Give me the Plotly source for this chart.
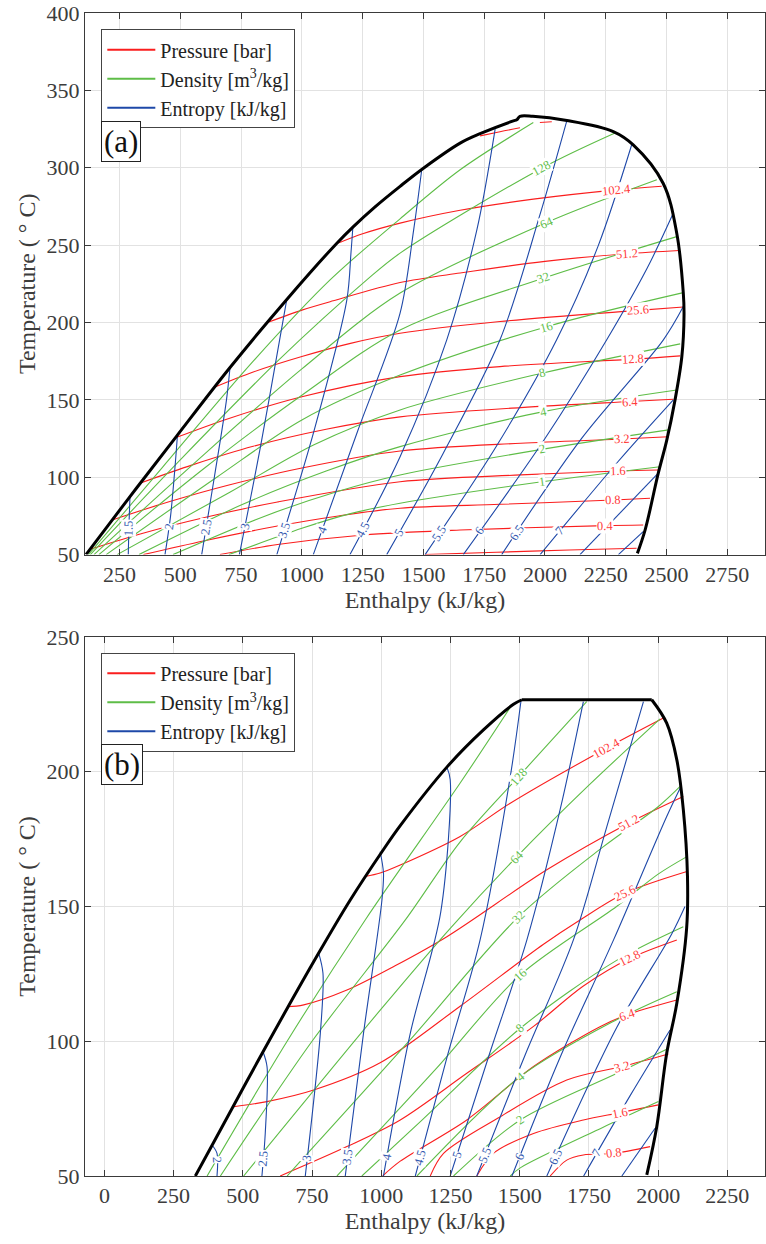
import numpy as np
import plotly.graph_objects as go

# ---------------- Panel (a) data ----------------
A_SAT_H = [112, 293, 485, 704.5, 938, 1143, 1212, 1300, 1404, 1500, 1651, 1733, 1870, 1884, 1897, 1950, 2090, 2281, 2363, 2486, 2542, 2569, 2572, 2563, 2535, 2501, 2466, 2412, 2380]
A_SAT_T = [50, 87.5, 126.6, 170.9, 214.9, 251.1, 262, 274.6, 288, 299.7, 315.9, 322, 330.3, 331, 333.2, 333.2, 330.5, 323.4, 314.8, 290, 257.7, 219, 205, 178, 150, 124, 102.6, 66, 50.8]

A_PRES_LAB = [None, "102.4", "51.2", "25.6", "12.8", "6.4", "3.2", "1.6", "0.8", "0.4", None]
A_PRES_LAB_H = [None, 2295, 2336, 2384, 2363, 2350, 2316, 2302, 2281, 2247, None]
A_PRES_H = [
    [1733, 1815, 1897, None, 1979, 2028],
    [1150, 1250, 1404, 1651, 1952, 2295, 2480],
    [858, 1000, 1129, 1404, 1651, 2000, 2336, 2553],
    [638, 800, 1000, 1200, 1404, 1815, 2384, 2569],
    [485, 700, 1000, 1404, 1815, 2363, 2556],
    [340, 550, 800, 1100, 1404, 1900, 2350, 2528],
    [220, 450, 700, 1000, 1404, 1900, 2316, 2508],
    [128, 350, 600, 900, 1404, 1900, 2302, 2466],
    [348, 600, 900, 1150, 1404, 1815, 2281, 2432],
    [663, 900, 1253, 1651, 2247, 2404],
    [1506, 1800, 2100, 2377],
]
A_PRES_T = [
    [320.6, 323.3, 325.8, None, 329.2, 329.7],
    [251.3, 257.3, 264.2, 272.5, 279.7, 285.7, 288.0],
    [200.0, 208.0, 214.0, 225.8, 232.0, 239.5, 244.4, 246.5],
    [158, 168, 178, 186.5, 193, 200.6, 207.8, 210],
    [125.8, 138, 152, 165, 171.5, 176.3, 178.4],
    [96.5, 108, 120, 131, 139, 145, 148.9, 150.4],
    [72.4, 84, 95, 106, 117, 122, 124.7, 126.2],
    [53.4, 64, 74, 84, 97.1, 101.5, 104, 104.7],
    [50, 59, 68.5, 75, 80, 82.5, 85.3, 86.4],
    [50, 56.5, 62.7, 65.9, 68.7, 69.1],
    [50, 51.5, 53, 54.1],
]

A_DENS_LAB = [None, "128", "64", "32", "16", "8", "4", "2", "1"]
A_DENS_LAB_H = [None, 1987, 2007, 1993, 2007, 1987, 1993, 1987, 1987]
A_DENS_H = [
    [122, 430, 800, 1116, 1404, 1651, 1952],
    [130, 480, 900, 1267, 1404, 1987, 2288],
    [145, 550, 1000, 1404, 2007, 2460],
    [165, 600, 1000, 1404, 1993, 2542],
    [195, 650, 1000, 1404, 2007, 2569],
    [240, 700, 1050, 1404, 1987, 2556],
    [330, 750, 1100, 1404, 1993, 2542],
    [470, 850, 1150, 1404, 1987, 2508],
    [700, 1000, 1200, 1404, 1987, 2473],
]
A_DENS_T = [
    [50, 107, 175, 227.5, 267, 298.7, 329.2],
    [50, 108, 175, 227.5, 244.8, 299.7, 322.4],
    [50, 108, 170, 219, 264.6, 292.2],
    [50, 106, 153, 195.2, 228.6, 255.5],
    [50, 100, 137, 166, 197.3, 219.3],
    [50, 90, 121, 143.5, 167.2, 186.2],
    [50, 82, 104, 119.8, 142.4, 156.4],
    [50, 75, 91, 101.5, 118, 130.6],
    [50, 67, 76.5, 83.2, 97.1, 106.8],
]

A_ENT_LAB = ["1.5", "2", "2.5", "3", "3.5", "4", "4.5", "5", "5.5", "6", "6.5", "7", None, None]
A_ENT_LAB_T = [67, 68, 68, 68, 66, 66, 66, 64, 64, 65, 64, 65, None, None]
A_ENT_H = [
    [286, 289, 293],
    [437, 460, 480, 488],
    [588, 640, 690, 704.5],
    [743, 830, 910, 938],
    [897, 1050, 1185, 1202, 1210],
    [1047, 1230, 1404, 1460, 1493],
    [1198, 1404, 1596, 1720, 1795],
    [1349, 1580, 1815, 1980, 2090],
    [1507, 1800, 2048, 2220, 2357],
    [1664, 2000, 2254, 2420, 2528],
    [1822, 2150, 2487, 2569],
    [1980, 2300, 2528],
    [2144, 2466],
    [2302, 2404],
]
A_ENT_T = [
    [50, 70, 87.5],
    [50, 75, 110, 126.6],
    [50, 100, 150, 170.9],
    [50, 120, 190, 214.9],
    [50, 130, 214.6, 245, 262],
    [50, 130, 206, 260, 298.7],
    [50, 113.3, 188.8, 260, 325],
    [50, 115, 188.8, 270, 330.5],
    [50, 120, 188.8, 250, 315],
    [50, 125, 188.8, 235, 270.7],
    [50, 125, 188.8, 210.3],
    [50, 110, 150],
    [50, 102.6],
    [50, 64.8],
]

# ---------------- Panel (b) data ----------------
B_SAT_H = [328.5, 389.5, 573, 774, 888, 1002.5, 1068.6, 1237, 1369, 1477.6, 1508, 1977, 2031, 2067.5, 2091, 2106, 2103, 2067.5, 2031, 1995, 1959]
B_SAT_T = [50, 61.5, 96.1, 132.7, 152.4, 170.3, 180.0, 201.7, 215.5, 225.0, 226.7, 226.7, 218, 204.4, 185.9, 161.1, 142, 114.1, 95.5, 68.3, 50.4]

B_PRES_LAB = ["102.4", "51.2", "25.6", "12.8", "6.4", "3.2", "1.6", "0.8"]
B_PRES_LAB_H = [1815, 1893, 1881, 1899, 1887, 1869, 1863, 1839]
B_PRES_H = [
    [942, 996, 1068.6, 1285, 1466, 1815, 2019],
    [659.5, 720, 876, 1050, 1237, 1598, 1893, 2091],
    [467, 587, 756, 996, 1285, 1586, 1718, 1881, 2104],
    [635, 876, 1068.6, 1309, 1550, 1730, 1899, 2067.5],
    [1005, 1068.6, 1309, 1550, 1790, 1887, 2067.5],
    [1177, 1225, 1430, 1670, 1869, 2037],
    [1345, 1405, 1550, 1730, 1863, 2001],
    [1610, 1670, 1730, 1839, 1971],
]
B_PRES_T = [
    [161.1, 162.4, 165.4, 176, 188.3, 208.8, 219.9],
    [112.8, 113.5, 119, 128, 138.8, 163.6, 180.9, 190.8],
    [75.7, 77.6, 81.9, 92, 113, 136, 145, 155, 163],
    [50, 60.9, 70.8, 88.1, 105.5, 120.5, 130.8, 137.6],
    [50, 55.5, 70.8, 90.6, 105.4, 109.8, 115.3],
    [50, 58.4, 72, 85.6, 90.6, 95.3],
    [50, 58.4, 65.8, 70.8, 73.5, 76.4],
    [50, 55.9, 57.8, 58.4, 60.9],
]

B_DENS_LAB = [None, "128", "64", "32", "16", "8", "4", "2", None]
B_DENS_LAB_H = [None, 1496, 1490, 1496, 1502, 1502, 1502, 1502, None]
B_DENS_H = [
    [371, 660, 942, 1285, 1470],
    [419, 750, 1087, 1285, 1496, 1742],
    [503, 1000, 1250, 1490, 1750, 2007],
    [660, 1100, 1496, 1800, 2000, 2085],
    [840, 1200, 1502, 1850, 2000, 2104],
    [930, 1150, 1502, 1850, 2091],
    [1129, 1502, 1850, 2067.5],
    [1261, 1502, 1850, 2031],
    [1466, 1502, 1800, 2001],
]
B_DENS_T = [
    [50, 100, 145, 195.8, 224.5],
    [50, 100, 145, 174, 198.2, 226],
    [50, 112, 142, 168.5, 195, 219.6],
    [50, 100, 146.2, 172, 187, 195.1],
    [50, 90, 124.6, 150, 162, 168.5],
    [50, 71, 104.8, 130, 142.5],
    [50, 86.9, 108, 118.4],
    [50, 70.8, 88, 97],
    [50, 53, 68, 77.6],
]

B_ENT_LAB = ["2", "2.5", "3", "3.5", "4", "4.5", "5", "5.5", "6", "6.5", "7", None]
B_ENT_LAB_T = [56, 56.6, 56.6, 57, 57, 57, 57.8, 57.8, 57, 57, 58.4, None]
B_ENT_H = [
    [406.8, 406.8, 388.7],
    [569, 581, 587.4, 573],
    [725.6, 780, 789.5, 774],
    [870, 936, 1002.5, 1008, 996],
    [1008, 1105, 1215, 1249, 1237],
    [1123, 1240, 1357, 1466, 1505],
    [1249, 1390, 1526, 1646, 1730],
    [1345, 1520, 1694, 1815, 1947],
    [1472, 1650, 1839, 2031, 2085],
    [1598, 1850, 2050, 2097],
    [1731, 1900, 2043],
    [1869, 1989],
]
B_ENT_T = [
    [50, 58.4, 61.5],
    [50, 65.8, 90.6, 96.1],
    [50, 103, 125.2, 132.7],
    [50, 103, 152.4, 162.4, 170.3],
    [50, 103, 148, 197, 201.7],
    [50, 95, 137.6, 198.2, 226.5],
    [50, 95, 137.6, 185.9, 226],
    [50, 95, 137.6, 179.7, 226],
    [50, 95, 137.6, 183.4, 195.1],
    [50, 105, 140, 150],
    [50, 80, 104.2],
    [50, 67.7],
]

A_XRANGE = [108, 2905]
A_YRANGE = [50, 400]
B_XRANGE = [-70, 2386]
B_YRANGE = [50, 250]
A_XTICKS = [250, 500, 750, 1000, 1250, 1500, 1750, 2000, 2250, 2500, 2750]
B_XTICKS = [0, 250, 500, 750, 1000, 1250, 1500, 1750, 2000, 2250]
LEGEND_NAMES = ["Pressure [bar]", "Density [m<sup>3</sup>/kg]", "Entropy [kJ/kg]"]

# ---------------- styling / layout ----------------
W, H = 766, 1244
ML, MR, MT, MB = 85, 1, 13, 68
PW = W - ML - MR
PH = H - MT - MB
DOM_A = [0.5343, 1.0]
DOM_B = [0.0, 0.4635]

RED, GREEN, BLUE = "#fa1e1e", "#5ebd47", "#1e48a8"
RED_T, GREEN_T, BLUE_T = "#ff3a3a", "#62be4c", "#3559b0"
FONT = "Liberation Serif, Times New Roman, serif"
TXT = "#3c3c3c"

fig = go.Figure()


def add_family(Hs, Ts, color, xa, ya):
    for hh, tt in zip(Hs, Ts):
        fig.add_trace(go.Scatter(
            x=hh, y=tt, mode="lines", xaxis=xa, yaxis=ya,
            line=dict(color=color, width=1.1, shape="spline", smoothing=0.9),
            showlegend=False, hoverinfo="skip"))


def add_legend_entries(xa, ya, legend):
    for rank, (name, color) in enumerate(zip(LEGEND_NAMES, (RED, GREEN, BLUE))):
        fig.add_trace(go.Scatter(
            x=[None], y=[None], mode="lines", xaxis=xa, yaxis=ya,
            line=dict(color=color, width=2), name=name, legend=legend,
            legendrank=rank + 1, showlegend=True, hoverinfo="skip"))


def scales(xr, yr, dom):
    sx = PW / (xr[1] - xr[0])
    sy = PH * (dom[1] - dom[0]) / (yr[1] - yr[0])
    return sx, sy


def clean(hh, tt):
    pts = [(a, b) for a, b in zip(hh, tt) if a is not None]
    return np.array([p[0] for p in pts], float), np.array([p[1] for p in pts], float)


def label_by_h(hh, tt, hl, sx, sy):
    h, t = clean(hh, tt)
    tl = np.interp(hl, h, t)
    d = 25.0
    dy = (np.interp(hl + d, h, t) - np.interp(hl - d, h, t)) * sy
    dx = 2 * d * sx
    ang = np.degrees(np.arctan2(dy, dx))
    return hl, tl, -ang


def label_by_t(hh, tt, tl, sx, sy):
    h, t = clean(hh, tt)
    hl = np.interp(tl, t, h)
    d = 3.0
    dx = (np.interp(tl + d, t, h) - np.interp(tl - d, t, h)) * sx
    dy = 2 * d * sy
    if dx < 0:
        dx, dy = -dx, -dy
    ang = np.degrees(np.arctan2(dy, dx))
    return hl, tl, -ang


annotations = []


def add_labels(Hs, Ts, labs, pos, mode, color, xa, ya, sx, sy):
    for hh, tt, lab, p in zip(Hs, Ts, labs, pos):
        if lab is None:
            continue
        if mode == "h":
            x, y, a = label_by_h(hh, tt, p, sx, sy)
        else:
            x, y, a = label_by_t(hh, tt, p, sx, sy)
        annotations.append(dict(
            x=x, y=y, xref=xa, yref=ya, text=lab, showarrow=False,
            textangle=float(a), bgcolor="white", borderpad=0,
            font=dict(family=FONT, size=12.5, color=color)))


def add_boundary(hh, tt, xa, ya, split_flat):
    hh = list(hh)
    tt = list(tt)
    if split_flat:
        tmax = max(tt)
        i0 = tt.index(tmax)
        i1 = len(tt) - 1 - tt[::-1].index(tmax)
        parts = [(hh[:i0 + 1], tt[:i0 + 1], "spline"), (hh[i0:i1 + 1], tt[i0:i1 + 1], "linear"),
                 (hh[i1:], tt[i1:], "spline")]
    else:
        parts = [(hh, tt, "spline")]
    for ph, pt, shp in parts:
        fig.add_trace(go.Scatter(x=ph, y=pt, mode="lines", xaxis=xa, yaxis=ya,
                                 line=dict(color="black", width=3, shape=shp, smoothing=1.0),
                                 showlegend=False, hoverinfo="skip"))


# panel (a)
sxa, sya = scales(A_XRANGE, A_YRANGE, DOM_A)
add_family(A_PRES_H, A_PRES_T, RED, "x", "y")
add_family(A_DENS_H, A_DENS_T, GREEN, "x", "y")
add_family(A_ENT_H, A_ENT_T, BLUE, "x", "y")
add_boundary(A_SAT_H, A_SAT_T, "x", "y", False)
add_legend_entries("x", "y", "legend")
add_labels(A_PRES_H, A_PRES_T, A_PRES_LAB, A_PRES_LAB_H, "h", RED_T, "x", "y", sxa, sya)
add_labels(A_DENS_H, A_DENS_T, A_DENS_LAB, A_DENS_LAB_H, "h", GREEN_T, "x", "y", sxa, sya)
add_labels(A_ENT_H, A_ENT_T, A_ENT_LAB, A_ENT_LAB_T, "t", BLUE_T, "x", "y", sxa, sya)

# panel (b)
sxb, syb = scales(B_XRANGE, B_YRANGE, DOM_B)
add_family(B_PRES_H, B_PRES_T, RED, "x2", "y2")
add_family(B_DENS_H, B_DENS_T, GREEN, "x2", "y2")
add_family(B_ENT_H, B_ENT_T, BLUE, "x2", "y2")
add_boundary(B_SAT_H, B_SAT_T, "x2", "y2", True)
add_legend_entries("x2", "y2", "legend2")
add_labels(B_PRES_H, B_PRES_T, B_PRES_LAB, B_PRES_LAB_H, "h", RED_T, "x2", "y2", sxb, syb)
add_labels(B_DENS_H, B_DENS_T, B_DENS_LAB, B_DENS_LAB_H, "h", GREEN_T, "x2", "y2", sxb, syb)
add_labels(B_ENT_H, B_ENT_T, B_ENT_LAB, B_ENT_LAB_T, "t", BLUE_T, "x2", "y2", sxb, syb)

# panel tags
for tag, xr, yr in (("(a)", "x domain", "y domain"), ("(b)", "x2 domain", "y2 domain")):
    annotations.append(dict(x=0.024, y=0.763, xref=xr, yref=yr, xanchor="left", yanchor="middle",
                            text=tag, showarrow=False, bgcolor="white", bordercolor="#222",
                            borderwidth=1, borderpad=2, font=dict(family=FONT, size=31, color="#111")))

axis_common = dict(showline=True, linecolor="#3a3a3a", linewidth=1, mirror="ticks",
                   ticks="inside", ticklen=6, tickcolor="#3a3a3a", showgrid=True,
                   gridcolor="#e2e2e2", gridwidth=1, zeroline=False,
                   tickfont=dict(family=FONT, size=22, color=TXT))

legend_common = dict(bgcolor="white", bordercolor="#444", borderwidth=1,
                     font=dict(family=FONT, size=20, color="#222"),
                     xanchor="left", yanchor="top", tracegroupgap=0, itemwidth=48)

title_font = dict(family=FONT, size=24, color=TXT)

fig.update_layout(
    width=W, height=H, margin=dict(l=ML, r=MR, t=MT, b=MB),
    plot_bgcolor="white", paper_bgcolor="white",
    font=dict(family=FONT),
    xaxis=dict(domain=[0, 1], range=A_XRANGE, tickvals=A_XTICKS, anchor="y",
               title=dict(text="Enthalpy (kJ/kg)", standoff=4, font=title_font), **axis_common),
    yaxis=dict(domain=DOM_A, range=A_YRANGE, dtick=50, anchor="x",
               title=dict(text="Temperature ( ° C)", standoff=4, font=title_font), **axis_common),
    xaxis2=dict(domain=[0, 1], range=B_XRANGE, tickvals=B_XTICKS, anchor="y2",
                title=dict(text="Enthalpy (kJ/kg)", standoff=4, font=title_font), **axis_common),
    yaxis2=dict(domain=DOM_B, range=B_YRANGE, dtick=50, anchor="x2",
                title=dict(text="Temperature ( ° C)", standoff=4, font=title_font), **axis_common),
    legend=dict(x=0.024, y=0.986, **legend_common),
    legend2=dict(x=0.024, y=0.450, **legend_common),
    annotations=annotations,
)

fig.write_html("out.html", config={"displayModeBar": False, "staticPlot": True},
               post_script="document.body.style.margin='0px';document.body.style.overflow='hidden';")
